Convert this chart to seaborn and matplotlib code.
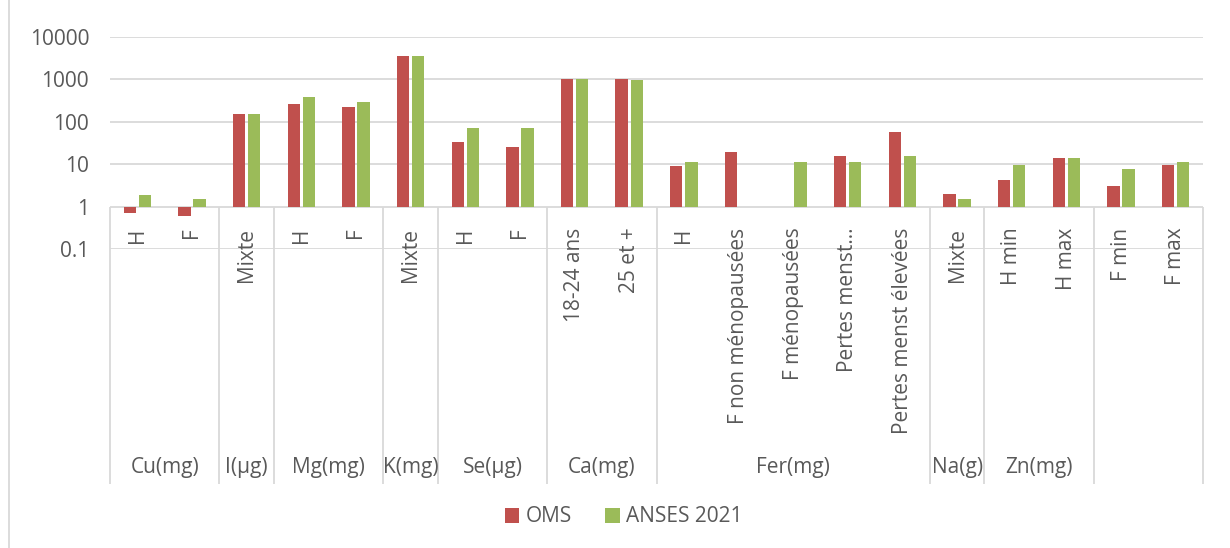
import numpy as np
import pandas as pd
import matplotlib
matplotlib.use("Agg")
import matplotlib.pyplot as plt
from matplotlib.lines import Line2D
import seaborn as sns

# groups of the two-level category axis
group_labels = ["Cu(mg)", "I(µg)", "Mg(mg)", "K(mg)", "Se(µg)", "Ca(mg)",
                "Fer(mg)", "Na(g)", "Zn(mg)", ""]
group_sizes = [2, 1, 2, 1, 2, 2, 5, 1, 2, 2]

sub_labels = ["H", "F", "Mixte", "H", "F", "Mixte", "H", "F",
              "18-24 ans", "25 et +", "H", "F non ménopausées", "F ménopausées",
              "Pertes menst…", "Pertes menst élevées", "Mixte",
              "H min", "H max", "F min", "F max"]

oms = [0.7, 0.6, 150, 260, 220, 3500, 34, 26, 1000, 1000,
       9, 19.5, np.nan, 16, 58, 2, 4.2, 14, 3, 9.8]
anses = [1.9, 1.5, 150, 380, 300, 3500, 70, 70, 1000, 950,
         11, np.nan, 11, 11, 16, 1.5, 9.4, 14, 7.5, 11]

series_names = ["OMS", "ANSES 2021"]
colors = ["#C0504D", "#9BBB59"]
tick_values = [0.1, 1, 10, 100, 1000, 10000]

text_color = "#595959"
grid_color = "#D9D9D9"
fs = 15

# long table, one row per bar; bars start at 1 like the Excel log axis
keys = [f"c{i:02d}" for i in range(len(sub_labels))]
df = pd.DataFrame({
    "key": keys * 2,
    "source": [series_names[0]] * len(keys) + [series_names[1]] * len(keys),
    "value": oms + anses,
}).dropna()
df["log_value"] = np.log10(df["value"])

sns.set_theme(style="white")
plt.rcParams["font.family"] = ["Open Sans", "DejaVu Sans"]

fig = plt.figure(figsize=(12.3, 5.48), dpi=100)
ax = fig.add_axes([110 / 1230, 1 - 249 / 548, (1203 - 110) / 1230, (249 - 37) / 548])

sns.barplot(data=df, x="key", y="log_value", hue="source", order=keys,
            hue_order=series_names, palette=colors, saturation=1,
            width=0.55, gap=0.18, errorbar=None, linewidth=0, ax=ax)

ax.set_xlim(-0.5, len(keys) - 0.5)
ax.set_ylim(np.log10(tick_values[0]), np.log10(tick_values[-1]))
ax.set_yticks(np.log10(tick_values))
ax.set_yticklabels([f"{v:g}" for v in tick_values], color=text_color, fontsize=fs)
ax.tick_params(axis="y", length=0, pad=15)
ax.set_xticks(range(len(keys)))
ax.set_xticklabels([])
ax.tick_params(axis="x", length=0)
ax.set_xlabel("")
ax.set_ylabel("")
for s in ax.spines.values():
    s.set_visible(False)
ax.yaxis.grid(True, color=grid_color, linewidth=1.3)
ax.set_axisbelow(True)

# category table below the axis
px = (249 - 37) / 5.0  # pixels per decade
y_bottom = -(483 - 206) / px
y_sub = -(227 - 206) / px
y_group = -(467 - 206) / px
bounds = np.concatenate([[0], np.cumsum(group_sizes)]) - 0.5
ax.vlines(bounds, y_bottom, 0, colors=grid_color, linewidth=1.3, clip_on=False)

for i, lab in enumerate(sub_labels):
    ax.text(i, y_sub, lab, rotation=90, ha="center", va="top",
            color=text_color, fontsize=fs, clip_on=False)
for j, lab in enumerate(group_labels):
    ax.text((bounds[j] + bounds[j + 1]) / 2, y_group, lab, ha="center",
            va="center", color=text_color, fontsize=fs, clip_on=False)

handles, labels = ax.get_legend_handles_labels()
ax.legend(handles, labels, loc="center", bbox_to_anchor=(0.507, 1 - 517 / 548),
          bbox_transform=fig.transFigure, ncol=2, frameon=False,
          handlelength=0.7, handleheight=0.7, handletextpad=0.3,
          columnspacing=1.6, fontsize=fs, labelcolor=text_color)

fig.add_artist(Line2D([9 / 1230, 9 / 1230], [0, 1], color=grid_color, linewidth=1.3))

fig.savefig("out.png", dpi=100)
